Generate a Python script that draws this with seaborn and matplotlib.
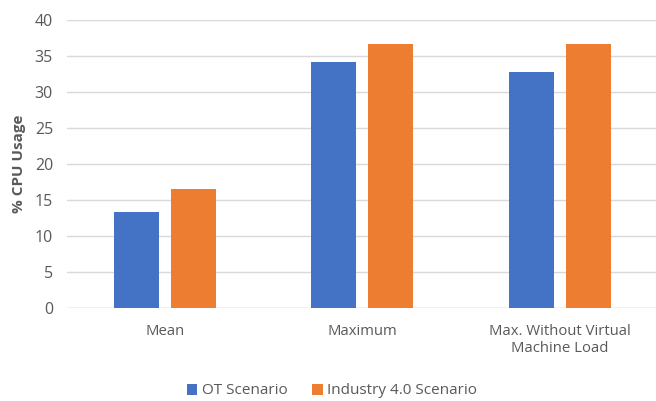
import matplotlib
matplotlib.use("Agg")
import matplotlib.pyplot as plt
import seaborn as sns
import pandas as pd
from matplotlib.patches import Patch

categories = ["Mean", "Maximum", "Max. Without Virtual\nMachine Load"]
series_names = ["OT Scenario", "Industry 4.0 Scenario"]
ot_values = [13.3, 34.2, 32.8]
industry_values = [16.5, 36.6, 36.6]
y_ticks = [0, 5, 10, 15, 20, 25, 30, 35, 40]

colors = ["#4472C4", "#ED7D31"]

df = pd.DataFrame({
    "Category": categories * 2,
    "Scenario": [series_names[0]] * 3 + [series_names[1]] * 3,
    "Value": ot_values + industry_values,
})

sns.set_theme(style="white")
plt.rcParams["font.family"] = ["Open Sans", "DejaVu Sans"]

fig = plt.figure(figsize=(6.56, 4.01), dpi=100)
ax = fig.add_axes([0.102, 0.231, 0.898, 0.72])

sns.barplot(data=df, x="Category", y="Value", hue="Scenario", order=categories,
            hue_order=series_names, palette=colors, width=0.576, gap=0.21,
            ax=ax, legend=False, saturation=1, edgecolor="none")

ax.set_ylim(0, 40)
ax.set_xlim(-0.495, 2.485)
ax.set_yticks(y_ticks)
ax.yaxis.grid(True, color="#D9D9D9", linewidth=1)
ax.set_axisbelow(True)
for s in ax.spines.values():
    s.set_visible(False)
ax.axhline(0, color="#D9D9D9", linewidth=1, zorder=0)
ax.tick_params(axis="both", length=0, labelsize=10.7, labelcolor="#595959")
ax.tick_params(axis="y", labelsize=11.5, pad=10)
ax.tick_params(axis="x", pad=11)
ax.set_xlabel("")
ax.set_ylabel("% CPU Usage", fontsize=11, fontweight="bold", color="#595959", labelpad=6)

handles = [Patch(facecolor=c, edgecolor="none") for c in colors]
fig.legend(handles, series_names, loc="center", bbox_to_anchor=(332 / 656, 1 - 391 / 401),
           ncol=2, frameon=False, fontsize=11, labelcolor="#595959",
           handlelength=0.7, handleheight=0.7, handletextpad=0.3, columnspacing=1.6)

fig.savefig("out.png", dpi=100)
